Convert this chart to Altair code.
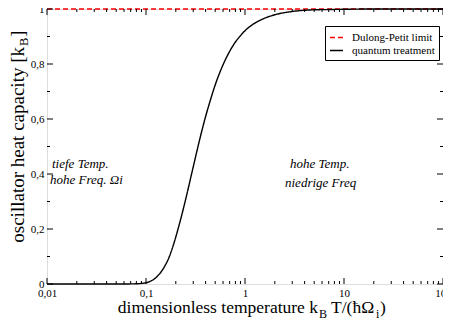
import altair as alt
import pandas as pd

# ---- data ----
T_vals = [0.01, 0.03, 0.06, 0.08, 0.09, 0.1, 0.11, 0.12, 0.13, 0.14, 0.15, 0.17, 0.2, 0.22,
          0.25, 0.3, 0.35, 0.4, 0.45, 0.5, 0.6, 0.7, 0.8, 0.9, 1.0, 1.2, 1.5, 2.0, 3.0,
          5.0, 7.0, 10.0, 20.0, 50.0, 100.0]
C_vals = [0.0, 0.0, 0.0001, 0.0009, 0.0021, 0.0045, 0.0095, 0.017, 0.028, 0.041, 0.057,
          0.095, 0.171, 0.225, 0.304, 0.426, 0.528, 0.609, 0.672, 0.724, 0.797, 0.846,
          0.880, 0.903, 0.921, 0.944, 0.963, 0.979, 0.991, 0.997, 0.998, 0.999, 1.0, 1.0, 1.0]
DP_T = [0.01, 100.0]
DP_C = [1.0, 1.0]
series_names = ["Dulong-Petit limit", "quantum treatment"]

x_major = [0.01, 0.1, 1, 10, 100]
x_minor = [m * d for d in [0.01, 0.1, 1, 10] for m in range(2, 10)]
y_major = [0, 0.2, 0.4, 0.6, 0.8, 1]
y_minor = [0.1, 0.3, 0.5, 0.7, 0.9]

W, H = 396, 275
FONT = "Liberation Serif"

quantum = pd.DataFrame({"T": T_vals, "C": C_vals, "s": series_names[1]})
dulong = pd.DataFrame({"T": DP_T, "C": DP_C, "s": series_names[0]})

xs = alt.Scale(type="log", domain=[0.01, 100], nice=False)
ys = alt.Scale(domain=[0, 1], nice=False)
xaxis = alt.Axis(values=x_major, labelExpr="replace(toString(datum.value), '.', ',')",
                 ticks=False, domain=False, grid=False, title=None, labelFont=FONT,
                 labelFontSize=11, labelPadding=3, labelColor="black", labelFlush=False)
yaxis = alt.Axis(values=y_major, labelExpr="replace(toString(datum.value), '.', ',')",
                 ticks=False, domain=False, grid=False, title=None, labelFont=FONT,
                 labelFontSize=11, labelPadding=3, labelColor="black")

leg = alt.Legend(title=None, orient="none", legendX=278, legendY=17, strokeColor="black",
                 fillColor="white", padding=4, labelFont=FONT, labelFontSize=11,
                 labelColor="black", symbolType="stroke", symbolSize=169,
                 symbolStrokeWidth=1.5, labelOffset=8, rowPadding=0)
color = alt.Color("s:N", scale=alt.Scale(domain=series_names, range=["#ff0000", "#000000"]), legend=leg)
dash = alt.StrokeDash("s:N", scale=alt.Scale(domain=series_names, range=[[5, 3], [1, 0]]), legend=leg)

lines = alt.Chart(pd.concat([dulong, quantum])).mark_line(strokeWidth=1.4, interpolate="monotone").encode(
    x=alt.X("T:Q", scale=xs, axis=xaxis),
    y=alt.Y("C:Q", scale=ys, axis=yaxis),
    color=color, strokeDash=dash, detail="s:N")

def xticks(vals, y0, y1):
    return alt.Chart(pd.DataFrame({"T": vals})).mark_rule(color="black", strokeWidth=1).encode(
        x=alt.X("T:Q", scale=xs, axis=xaxis), y=alt.value(y0), y2=alt.value(y1))

def yticks(vals, x0, x1):
    return alt.Chart(pd.DataFrame({"C": vals})).mark_rule(color="black", strokeWidth=1).encode(
        y=alt.Y("C:Q", scale=ys, axis=yaxis), x=alt.value(x0), x2=alt.value(x1))

ticks = [xticks(x_major, H, H - 6), xticks(x_minor, H, H - 3),
         xticks(x_major, 0, 6), xticks(x_minor, 0, 3),
         yticks(y_major, 0, 6), yticks(y_minor, 0, 3),
         yticks(y_major, W, W - 6), yticks(y_minor, W, W - 3)]

def txt(s, x, y, size=15, align="left", angle=0, italic=False, baseline="alphabetic"):
    kw = dict(text=s, font=FONT, fontSize=size, align=align, baseline=baseline, color="black")
    if angle:
        kw["angle"] = angle
    if italic:
        kw["fontStyle"] = "italic"
    return alt.Chart(pd.DataFrame({"a": [0]})).mark_text(**kw).encode(x=alt.value(x), y=alt.value(y))

ox, oy = 47, 9  # plot origin in the page
texts = [
    # x-axis title
    txt("dimensionless temperature k", 318 - ox, 313 - oy, size=17.5, align="right"),
    txt("B", 319 - ox, 318 - oy, size=12),
    txt("T/(ħΩ", 331 - ox, 313 - oy, size=17.5),
    txt("i", 376 - ox, 318 - oy, size=12),
    txt(")", 380 - ox, 313 - oy, size=17.5),
    # y-axis title
    txt("oscillator heat capacity [k", 24 - ox, 47 - oy, size=19, align="right", angle=270),
    txt("B", 28 - ox, 46 - oy, size=12.5, align="left", angle=270),
    txt("]", 24 - ox, 37 - oy, size=19, align="left", angle=270),
    # handwritten notes
    txt("tiefe Temp.", 52 - ox, 168 - oy, size=13, italic=True),
    txt("hohe Freq. Ωi", 50 - ox, 184 - oy, size=13, italic=True),
    txt("hohe Temp.", 290 - ox, 168 - oy, size=13, italic=True),
    txt("niedrige Freq", 285 - ox, 187 - oy, size=13, italic=True),
]

chart = alt.layer(lines, *ticks, *texts).properties(
    width=W, height=H,
    autosize=alt.AutoSizeParams(type="none"),
    padding={"left": 39, "top": 1, "right": 0, "bottom": 40},
).configure_view(stroke="black", strokeWidth=1).configure(
    background="white", font=FONT
).configure_axis(labelFont=FONT).configure_legend(labelFont=FONT)

chart.save("out.html", embed_options={"renderer": "svg", "actions": False})
